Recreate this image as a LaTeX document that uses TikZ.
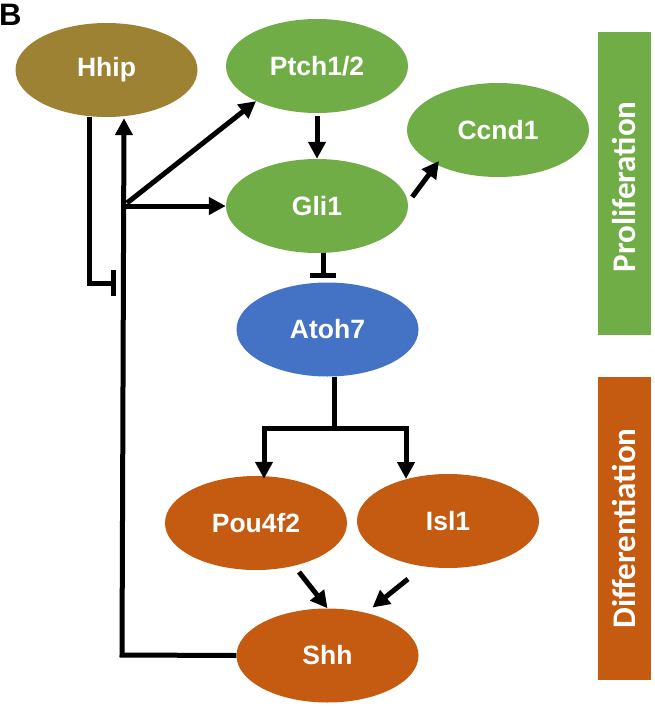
\documentclass[tikz,border=0pt]{standalone}
\usepackage{fontspec}
\setmainfont{Liberation Sans}
\newfontfamily\sidefont{Carlito}
\usetikzlibrary{shapes.geometric,arrows.meta,calc}
\definecolor{hhipcol}{HTML}{9C8232}
\definecolor{grn}{HTML}{70AD47}
\definecolor{blu}{HTML}{4472C4}
\definecolor{org}{HTML}{C55A11}
\begin{document}
\begin{tikzpicture}[x=1pt,y=-1pt,
  gene/.style={ellipse, minimum width=182pt, minimum height=94pt, inner sep=0pt,
    text=white, font=\fontsize{26.5}{30}\selectfont\bfseries},
  arr/.style={line width=5pt, -{Triangle[length=17pt,width=17pt]}},
  inh/.style={line width=5pt, -{Bar[width=26pt]}},
  ln/.style={line width=5pt},
  sidebox/.style={minimum width=53pt, inner sep=0pt, draw=none},
  sidetext/.style={rotate=90, text=white, inner sep=0pt,
    font=\sidefont\fontsize{33}{38}\selectfont\bfseries}
]
\useasboundingbox (0,0) rectangle (654,707);

% label
\node[font=\fontsize{31}{34}\selectfont\bfseries, anchor=north west, inner sep=0pt] (lblB) at (-1,4) {B};

% genes
\node[gene, fill=hhipcol] (Hhip) at (106.5,70) {Hhip};
\node[gene, fill=grn] (Ptch) at (317,66) {Ptch1/2};
\node[gene, fill=grn] (Ccnd1) at (498,130) {Ccnd1};
\node[gene, fill=grn] (Gli1) at (317,206) {Gli1};
\node[gene, fill=blu] (Atoh7) at (327.5,329.5) {Atoh7};
\node[gene, fill=org] (Pou4f2) at (256,523) {Pou4f2};
\node[gene, fill=org] (Isl1) at (448,521) {Isl1};
\node[gene, fill=org] (Shh) at (327.5,655.5) {Shh};

% side boxes
\node[sidebox, fill=grn, minimum height=303pt] (prolbox) at (624.5,183.5) {};
\node[sidetext] (prol) at (624.5,187) {Proliferation};
\node[sidebox, fill=org, minimum height=303pt] (diffbox) at (624.5,528.5) {};
\node[sidetext] (diff) at (624.5,528.5) {Differentiation};

% helper coordinates
\coordinate (vx) at (124,0);
\coordinate (corner) at (122,655);
\coordinate (br) at (124,206);
\coordinate (hx) at (89,0);
\coordinate (hbar) at (116,283);

% Shh -> Hhip feedback
\draw[arr] (Shh.west) -- (corner) -- ([yshift=-1pt]Hhip.south -| vx);
% branches
\draw[arr] (br) -- (Gli1.west);
\draw[arr] ([shift={(3,-3)}]br) -- (Ptch.-150);
% Hhip inhibition
\draw[inh] (Hhip.south -| hx) |- (hbar);
% Ptch -> Gli1
\draw[arr] ([yshift=-3pt]Ptch.south) -- (Gli1.north);
% Gli1 -> Ccnd1
\draw[arr] ($(Gli1.east)+(4,-9)$) -- ($(Ccnd1.center)+(-59,31)$);
% Gli1 -| Atoh7
\draw[inh] ([xshift=6pt]Gli1.south) -- ([xshift=-4.5pt,yshift=4pt]Atoh7.north);
% Atoh7 split
\draw[ln] ([xshift=7pt]Atoh7.south) -- ++(0,54) coordinate (split);
\draw[arr] ([yshift=2pt]split) -| ([xshift=8pt,yshift=-3pt]Pou4f2.north);
\draw[arr] ([yshift=2pt]split) -| ($(Isl1.center)+(-42,-42)$);
% to Shh
\draw[arr] ($(Pou4f2.center)+(43,49)$) -- (Shh.north);
\draw[arr] ($(Isl1.center)+(-40,58)$) -- ($(Shh.center)+(45,-48)$);
\end{tikzpicture}
\end{document}
